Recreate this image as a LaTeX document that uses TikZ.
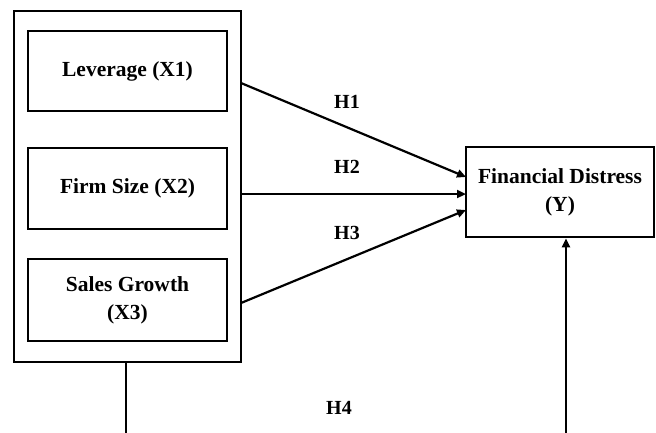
\documentclass[tikz,border=0pt]{standalone}
\usepackage{fontspec}
\setmainfont{Liberation Serif}
\usetikzlibrary{arrows.meta}
\begin{document}
\begin{tikzpicture}[x=1pt,y=-1pt,
  box/.style={draw,line width=2.6pt,inner sep=0pt,align=center,font=\fontsize{21.5}{28}\selectfont\bfseries},
  arr/.style={line width=2.2pt,-{Triangle[length=9pt,width=8pt]}},
  conn/.style={line width=2.2pt},
  lab/.style={font=\fontsize{20}{22}\selectfont\bfseries,inner sep=0pt}]
\useasboundingbox (0,0) rectangle (656,432);
\node[box,minimum width=227pt,minimum height=351pt] (outer) at (127.5,186.5) {};
\node[box,minimum width=199pt,minimum height=80pt] (x1) at (127.5,71) {Leverage (X1)};
\node[box,minimum width=199pt,minimum height=81pt] (x2) at (127.5,188.5) {Firm Size (X2)};
\node[box,minimum width=199pt,minimum height=82pt] (x3) at (127.5,300) {Sales Growth\\(X3)};
\node[box,minimum width=188pt,minimum height=90pt] (Y) at (560,192) {Financial Distress\\(Y)};
\coordinate (s1) at (241,83);
\coordinate (e1) at (466,177);
\coordinate (s2) at (241,194);
\coordinate (e2) at (466,194);
\coordinate (s3) at (241,303);
\coordinate (e3) at (466,210);
\draw[arr] (s1) -- (e1);
\draw[arr] (s2) -- (e2);
\draw[arr] (s3) -- (e3);
\coordinate (b1) at (126,433);
\coordinate (b2) at (566,433);
\draw[conn] (outer.south -| b1) -- (b1);
\draw[arr] (b2) -- (Y.south -| b2);
\node[lab] (h1) at (347,102) {H1};
\node[lab] (h2) at (347,167) {H2};
\node[lab] (h3) at (347,233) {H3};
\node[lab] (h4) at (339,408) {H4};
\end{tikzpicture}
\end{document}
